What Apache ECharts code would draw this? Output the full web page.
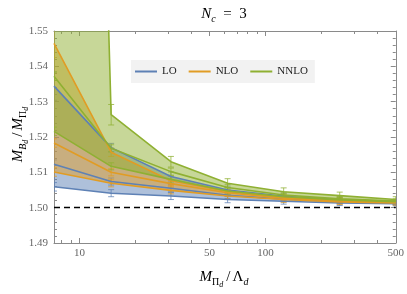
<!DOCTYPE html>
<html><head><meta charset="utf-8">
<script src="https://cdn.jsdelivr.net/npm/echarts@6/dist/echarts.min.js"></script>
<style>html,body{margin:0;padding:0;background:#fff}#c{width:407px;height:294px}</style>
</head><body><div id="c"></div>
<script>
// ---- data ----
const xValues = [7.3, 14.8, 31, 62.5, 125, 250, 500];
const loLow  = [1.5059, 1.5041, 1.5033, 1.5023, 1.5018, 1.5013, 1.5011];
const loMid  = [1.5123, 1.5074, 1.5055, 1.5035, 1.5024, 1.5017, 1.5013];
const loHigh = [1.5344, 1.5170, 1.5088, 1.5050, 1.5032, 1.5022, 1.5016];
const nloLow  = [1.5101, 1.5069, 1.5049, 1.5033, 1.5023, 1.5016, 1.5013];
const nloMid  = [1.5183, 1.5100, 1.5068, 1.5042, 1.5027, 1.5019, 1.5015];
const nloHigh = [1.5465, 1.5157, 1.5076, 1.5046, 1.5029, 1.5020, 1.5016];
const nnloLow  = [1.5216, 1.5117, 1.5080, 1.5047, 1.5031, 1.5022, 1.5017];
const nnloMid  = [1.5372, 1.5168, 1.5102, 1.5057, 1.5036, 1.5025, 1.5019];
const nnloHigh = [2.09, 1.5263, 1.5130, 1.5069, 1.5045, 1.5034, 1.5023];
const errSmall = [0.0012, 0.0010, 0.0010, 0.0009, 0.0008, 0.0007, 0.0006];
const errLarge = [0.0040, 0.0012, 0.0013, 0.0011, 0.0009, 0.0008, 0.0007];
const errNNLOHigh = [0.0040, 0.0029, 0.0015, 0.0013, 0.0011, 0.0010, 0.0008];
const xMajorTicks = [10, 50, 100, 500];
const xMinorTicks = [8, 9, 20, 30, 40, 60, 70, 80, 90, 200, 300, 400];
const yMin = 1.49, yMax = 1.55, yStep = 0.01;
const xMin = 7.3, xMax = 500;
const refLine = 1.50;
const legendNames = ['LO', 'NLO', 'NNLO'];

// ---- styling ----
const colors = {LO: '#5E81B5', NLO: '#E19C24', NNLO: '#8FB032'};
const serif = 'Liberation Serif';
const L = v => Math.log10(v);
const pts = ys => xValues.map((x, i) => [L(x), ys[i]]);

function band(name, low, high) {
  const c = colors[name];
  return {
    type: 'custom', name: name + '_band', clip: true, animation: false, silent: true,
    data: xValues.map((x, i) => [L(x), low[i], high[i]]),
    encode: {x: 0, y: [1, 2]},
    renderItem(params, api) {
      if (params.dataIndex !== 0) return null;
      const upper = xValues.map((x, i) => api.coord([L(x), high[i]]));
      const lower = xValues.map((x, i) => api.coord([L(x), low[i]])).reverse();
      return {type: 'polygon', shape: {points: upper.concat(lower)},
              style: {fill: c, opacity: 0.5, stroke: null}};
    }
  };
}
function line(name, ys) {
  return {type: 'line', name: name, data: pts(ys), symbol: 'none', color: colors[name],
          itemStyle: {color: colors[name]},
          lineStyle: {color: colors[name], width: 1.6}, clip: true, animation: false};
}
function errBars(name, ys, errs) {
  const c = colors[name];
  return {
    type: 'custom', name: name + '_err', clip: true, animation: false, silent: true,
    data: xValues.map((x, i) => [L(x), ys[i], errs[i]]),
    encode: {x: 0, y: 1},
    renderItem(params, api) {
      const x = api.value(0), y = api.value(1), e = api.value(2);
      const t = api.coord([x, y + e]), b = api.coord([x, y - e]);
      const w = 3, st = {stroke: c, lineWidth: 0.9, opacity: 0.85};
      return {type: 'group', children: [
        {type: 'line', shape: {x1: t[0], y1: t[1], x2: b[0], y2: b[1]}, style: st},
        {type: 'line', shape: {x1: t[0] - w, y1: t[1], x2: t[0] + w, y2: t[1]}, style: st},
        {type: 'line', shape: {x1: b[0] - w, y1: b[1], x2: b[0] + w, y2: b[1]}, style: st}
      ]};
    }
  };
}
function order(name, low, mid, high, eLow, eMid, eHigh) {
  return [
    band(name, low, high),
    line(name, low), line(name, mid), line(name, high),
    errBars(name, low, eLow), errBars(name, mid, eMid), errBars(name, high, eHigh)
  ];
}

const axisGray = '#8a8a8a';
const labelStyle = {fontFamily: serif, fontSize: 11, color: '#666'};
const lmin = L(xMin), lmax = L(xMax);
function xAx(pos, ticks, len, labels, line) {
  return {type: 'value', position: pos, min: lmin, max: lmax, gridIndex: 0,
    axisLine: {show: line, lineStyle: {color: axisGray, width: 1}},
    axisTick: {show: true, inside: true, length: len, customValues: ticks.map(L), lineStyle: {color: axisGray}},
    axisLabel: labels ? Object.assign({show: true, customValues: ticks.map(L), margin: 5,
      formatter: v => String(Math.round(Math.pow(10, v)))}, labelStyle) : {show: false},
    splitLine: {show: false}};
}
function yAx(pos, labels) {
  return {type: 'value', position: pos, min: yMin, max: yMax, interval: yStep,
    axisLine: {show: true, lineStyle: {color: axisGray, width: 1}},
    axisTick: {show: true, inside: true, length: 5, lineStyle: {color: axisGray}},
    minorTick: {show: true, splitNumber: 5, length: 3, lineStyle: {color: axisGray}},
    axisLabel: labels ? Object.assign({show: true, margin: 6, formatter: v => v.toFixed(2)}, labelStyle) : {show: false},
    splitLine: {show: false}, minorSplitLine: {show: false}};
}

const ink = '#222';
const richMath = {
  i: {fontFamily: serif, fontStyle: 'italic', fontSize: 15, color: ink, verticalAlign: 'bottom', lineHeight: 20},
  n: {fontFamily: serif, fontSize: 15, color: ink, verticalAlign: 'bottom', lineHeight: 20},
  sl: {fontFamily: serif, fontSize: 15, color: ink, verticalAlign: 'bottom', lineHeight: 20, padding: [0, 2, 0, 2]},
  s: {fontFamily: serif, fontStyle: 'italic', fontSize: 10, color: ink, verticalAlign: 'bottom', lineHeight: 20, padding: [0, 0, -2, 0]},
  su: {fontFamily: serif, fontSize: 10, color: ink, verticalAlign: 'bottom', lineHeight: 20, padding: [0, 0, -2, 0]},
  ss: {fontFamily: serif, fontStyle: 'italic', fontSize: 8, color: ink, verticalAlign: 'bottom', lineHeight: 20, padding: [0, 1, -4, 0]}
};

const chart = echarts.init(document.getElementById('c'), null, {renderer: 'canvas'});
chart.setOption({
  animation: false,
  backgroundColor: '#fff',
  grid: {left: 54, right: 10, top: 31, bottom: 51, containLabel: false},
  xAxis: [
    xAx('bottom', xMajorTicks, 5, true, true),
    xAx('bottom', xMinorTicks, 3, false, false),
    xAx('top', xMajorTicks, 5, false, true),
    xAx('top', xMinorTicks, 3, false, false)
  ],
  yAxis: [yAx('left', true), yAx('right', false)],
  legend: {
    data: legendNames, left: 131, top: 60, icon: 'rect', itemWidth: 22, itemHeight: 2,
    itemGap: 12, padding: [6, 7, 6, 4], backgroundColor: '#f2f2f2', selectedMode: false,
    textStyle: {fontFamily: serif, fontSize: 11, color: ink}
  },
  graphic: [
    {type: 'text', x: 224, y: 12, style: {text: '{i|N}{s|c}{n|  =  3}', rich: richMath, align: 'center', verticalAlign: 'middle'}},
    {type: 'text', x: 224, y: 275, style: {text: '{i|M}{su|Π}{ss|d}{sl|/}{n|Λ}{s|d}', rich: richMath, align: 'center', verticalAlign: 'middle'}},
    {type: 'text', x: 16, y: 134, rotation: Math.PI / 2, style: {text: '{i|M}{s|B}{ss|d}{sl|/}{i|M}{su|Π}{ss|d}', rich: richMath, align: 'center', verticalAlign: 'middle'}}
  ],
  series: [
    ...order('LO', loLow, loMid, loHigh, errSmall, errSmall, errLarge),
    ...order('NLO', nloLow, nloMid, nloHigh, errSmall, errSmall, errLarge),
    ...order('NNLO', nnloLow, nnloMid, nnloHigh, errSmall, errSmall, errNNLOHigh),
    {type: 'line', name: 'ref', data: [], silent: true,
     markLine: {silent: true, symbol: ['none', 'none'], label: {show: false},
       lineStyle: {color: '#000', type: [6, 4], width: 1.3}, data: [{yAxis: refLine}]}}
  ]
});
</script></body></html>
